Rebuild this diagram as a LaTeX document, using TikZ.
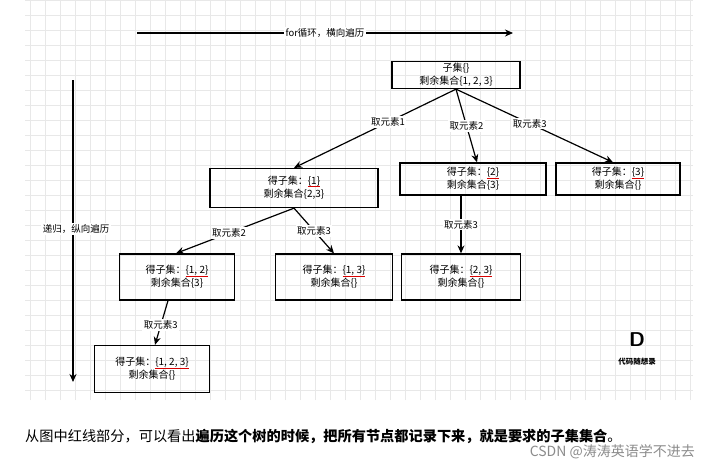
\documentclass[tikz,border=0pt]{standalone}
\usepackage{fontspec}
\newfontfamily\cjk{Noto Sans CJK SC}
\usetikzlibrary{arrows.meta}
\newcommand{\rul}[1]{\setbox0\hbox{#1}\rlap{\color{red!85!black}\rule[-2.5pt]{\wd0}{0.8pt}}\box0}
\begin{document}
\begin{tikzpicture}[x=1pt,y=-1pt,
  box/.style={draw,line width=1.3pt,minimum width=#1,minimum height=38pt,align=center,font=\cjk\fontsize{10}{13}\selectfont,inner sep=1pt},
  box/.default=120pt,
  lab/.style={fill=white,inner sep=1.5pt,font=\cjk\fontsize{9.5}{11}\selectfont},
  edge/.style={line width=1.2pt,-{Stealth[length=8pt,width=7pt]}}]
\useasboundingbox (0,0) rectangle (708,469);
\fill[white] (0,0) rectangle (708,469);
\draw[black!9,line width=0.5pt,step=15pt] (25,0) grid (693,400);
% axes
\coordinate (h1) at (137,33); \coordinate (h2) at (513,33);
\draw[edge] (h1) -- node[lab,fill=white] (hl) {for循环，横向遍历} (h2);
\coordinate (v1) at (73,80); \coordinate (v2) at (73,382);
\draw[edge] (v1) -- (v2);
\node[lab,fill=white] (vl) at (76,229) {递归，纵向遍历};
% nodes
\node[box=128pt,minimum height=27pt] (r) at (456,75) {子集\{\}\\剩余集合\{1, 2, 3\}};
\node[box=168pt,minimum height=39pt] (a) at (294,188) {得子集：\rul{\{1\}}\\剩余集合\{2,3\}};
\node[box=146pt,minimum height=32pt] (b) at (473,179) {得子集：\rul{\{2\}}\\剩余集合\{3\}};
\node[box=124pt,minimum height=32pt] (c) at (618,179) {得子集：\rul{\{3\}}\\剩余集合\{\}};
\node[box=115pt,minimum height=46pt] (d) at (177,277) {得子集：\rul{\{1, 2\}}\\剩余集合\{3\}};
\node[box=117pt,minimum height=46pt] (e) at (334,277) {得子集：\rul{\{1, 3\}}\\剩余集合\{\}};
\node[box=119pt,minimum height=46pt] (f) at (461,277) {得子集：\rul{\{2, 3\}}\\剩余集合\{\}};
\node[box=115pt,minimum height=47pt] (g) at (152,369) {得子集：\rul{\{1, 2, 3\}}\\剩余集合\{\}};
% edges
\draw[edge] (r.south) -- node[lab,pos=0.42] {取元素1} (a.north);
\draw[edge] (r.south) -- node[lab,pos=0.5] {取元素2} ([xshift=4pt]b.north);
\draw[edge] (r.south) -- node[lab,pos=0.47] {取元素3} ([xshift=-5pt]c.north);
\draw[edge] (a.south) -- node[lab,pos=0.55] {取元素2} ([xshift=-1pt]d.north);
\draw[edge] (a.south) -- node[lab,pos=0.5] {取元素3} (e.north);
\draw[edge] ([xshift=-12pt]b.south) -- node[lab,pos=0.5] {取元素3} (f.north);
\draw[edge] ([xshift=-9pt]d.south) -- node[lab,pos=0.55] {取元素3} ([xshift=3pt]g.north);
% logo
\node[font=\sffamily\bfseries\fontsize{20}{20}\selectfont] (logo) at (637,340) {D};
\node[font=\cjk\bfseries\fontsize{7.5}{9}\selectfont] (logot) at (637,362) {代码随想录};
% caption
\node[anchor=west,font=\cjk\fontsize{14.2}{16}\selectfont,inner sep=0] (cap) at (25,436) {从图中红线部分，可以看出\textbf{遍历这个树的时候，把所有节点都记录下来，就是要求的子集集合}。};
\node[anchor=east,font=\cjk\fontsize{14}{16}\selectfont,text=black!45,inner sep=0] (wm) at (695,452) {CSDN @涛涛英语学不进去};
\end{tikzpicture}
\end{document}
